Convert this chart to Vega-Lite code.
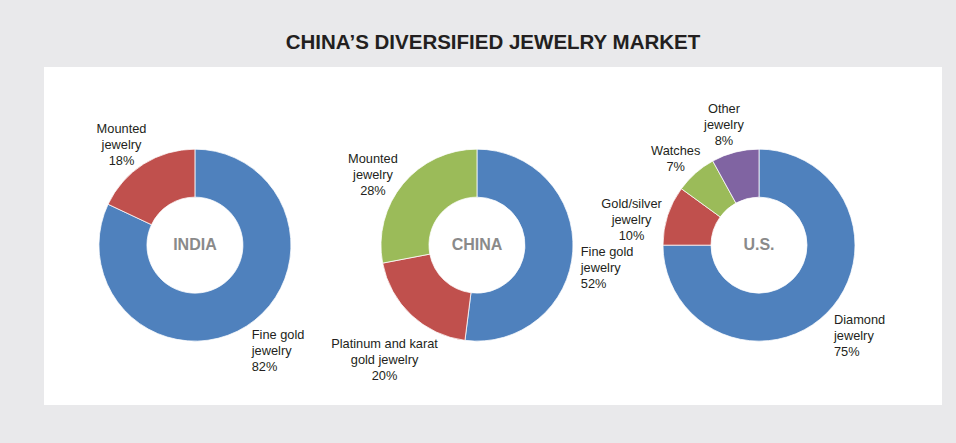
{
  "$schema": "https://vega.github.io/schema/vega-lite/v6.json",
  "width": 898,
  "height": 338,
  "autosize": {"type": "none"},
  "padding": {"left": 44, "top": 67, "right": 14, "bottom": 38},
  "background": "#e9e9eb",
  "config": {"view": {"fill": "#ffffff", "stroke": null}, "font": "Liberation Sans"},
  "title": {
    "text": "CHINA’S DIVERSIFIED JEWELRY MARKET",
    "font": "Liberation Sans",
    "fontSize": 20.5,
    "fontWeight": "bold",
    "color": "#231f20",
    "anchor": "middle",
    "frame": "group",
    "baseline": "alphabetic",
    "offset": -2
  },
  "datasets": {
    "shares": [
      {"country": "INDIA", "segment": "Fine gold jewelry", "label": "Fine gold\njewelry\n82%", "share": 82, "rank": 1},
      {"country": "INDIA", "segment": "Mounted jewelry", "label": "Mounted\njewelry\n18%", "share": 18, "rank": 2},
      {"country": "CHINA", "segment": "Fine gold jewelry", "label": "Fine gold\njewelry\n52%", "share": 52, "rank": 1},
      {"country": "CHINA", "segment": "Platinum and karat gold jewelry", "label": "Platinum and karat\ngold jewelry\n20%", "share": 20, "rank": 2},
      {"country": "CHINA", "segment": "Mounted jewelry", "label": "Mounted\njewelry\n28%", "share": 28, "rank": 3},
      {"country": "U.S.", "segment": "Diamond jewelry", "label": "Diamond\njewelry\n75%", "share": 75, "rank": 1},
      {"country": "U.S.", "segment": "Gold/silver jewelry", "label": "Gold/silver\njewelry\n10%", "share": 10, "rank": 2},
      {"country": "U.S.", "segment": "Watches", "label": "Watches\n7%", "share": 7, "rank": 3},
      {"country": "U.S.", "segment": "Other jewelry", "label": "Other\njewelry\n8%", "share": 8, "rank": 4}
    ],
    "markets": [
      {"country": "INDIA"},
      {"country": "CHINA"},
      {"country": "U.S."}
    ]
  },
  "data": {"name": "shares"},
  "encoding": {
    "x": {"field": "country", "type": "nominal", "scale": {"type": "point", "domain": ["INDIA", "CHINA", "U.S."], "padding": 0.592, "align": 0.452}, "axis": null},
    "y": {"datum": "center", "type": "nominal", "scale": {"type": "point", "padding": 0.5, "align": 0.527}, "axis": null}
  },
  "layer": [
    {
      "transform": [{"filter": {"field": "country", "equal": "INDIA"}}],
      "encoding": {
        "theta": {"field": "share", "type": "quantitative", "stack": true, "scale": {"domain": [0, 100]}},
        "order": {"field": "rank", "type": "quantitative"},
        "detail": {"field": "rank", "type": "nominal"}
      },
      "layer": [
        {"mark": {"type": "arc", "outerRadius": 96, "innerRadius": 48, "stroke": "#ffffff", "strokeWidth": 0.75},
         "encoding": {"color": {"field": "rank", "type": "nominal", "scale": {"domain": [1, 2, 3, 4], "range": ["#4f81bd", "#c0504d", "#9bbb59", "#8064a2"]}, "legend": null}}},
        {"mark": {"type": "text", "radius": 137, "align": "center", "baseline": "middle", "lineBreak": "\n", "fontSize": 12.8, "lineHeight": 16, "color": "#231f20"},
         "encoding": {"text": {"condition": {"test": {"field": "segment", "oneOf": ["Mounted jewelry"]}, "field": "label"}, "value": ""}}},
        {"mark": {"type": "text", "radius": 106, "align": "left", "baseline": "middle", "lineBreak": "\n", "fontSize": 12.8, "lineHeight": 16, "color": "#231f20"},
         "encoding": {"text": {"condition": {"test": {"field": "segment", "oneOf": ["Fine gold jewelry"]}, "field": "label"}, "value": ""}}}
      ]
    },
    {
      "transform": [{"filter": {"field": "country", "equal": "CHINA"}}],
      "encoding": {
        "theta": {"field": "share", "type": "quantitative", "stack": true, "scale": {"domain": [0, 100]}},
        "order": {"field": "rank", "type": "quantitative"},
        "detail": {"field": "rank", "type": "nominal"}
      },
      "layer": [
        {"mark": {"type": "arc", "outerRadius": 96, "innerRadius": 48, "stroke": "#ffffff", "strokeWidth": 0.75},
         "encoding": {"color": {"field": "rank", "type": "nominal", "scale": {"domain": [1, 2, 3, 4], "range": ["#4f81bd", "#c0504d", "#9bbb59", "#8064a2"]}, "legend": null}}},
        {"mark": {"type": "text", "radius": 135, "align": "center", "baseline": "middle", "lineBreak": "\n", "fontSize": 12.8, "lineHeight": 16, "color": "#231f20"},
         "encoding": {"text": {"condition": {"test": {"field": "segment", "oneOf": ["Mounted jewelry", "Platinum and karat gold jewelry"]}, "field": "label"}, "value": ""}}},
        {"mark": {"type": "text", "radius": 104, "align": "left", "baseline": "middle", "lineBreak": "\n", "fontSize": 12.8, "lineHeight": 16, "color": "#231f20"},
         "encoding": {"text": {"condition": {"test": {"field": "segment", "oneOf": ["Fine gold jewelry"]}, "field": "label"}, "value": ""}}}
      ]
    },
    {
      "transform": [{"filter": {"field": "country", "equal": "U.S."}}],
      "encoding": {
        "theta": {"field": "share", "type": "quantitative", "stack": true, "scale": {"domain": [0, 100]}},
        "order": {"field": "rank", "type": "quantitative"},
        "detail": {"field": "rank", "type": "nominal"}
      },
      "layer": [
        {"mark": {"type": "arc", "outerRadius": 96, "innerRadius": 48, "stroke": "#ffffff", "strokeWidth": 0.75},
         "encoding": {"color": {"field": "rank", "type": "nominal", "scale": {"domain": [1, 2, 3, 4], "range": ["#4f81bd", "#c0504d", "#9bbb59", "#8064a2"]}, "legend": null}}},
        {"mark": {"type": "text", "radius": 134, "align": "center", "baseline": "middle", "lineBreak": "\n", "fontSize": 12.8, "lineHeight": 16, "color": "#231f20"},
         "encoding": {"text": {"condition": {"test": {"field": "segment", "oneOf": ["Gold/silver jewelry"]}, "field": "label"}, "value": ""}}},
        {"mark": {"type": "text", "radius": 126, "align": "center", "baseline": "middle", "lineBreak": "\n", "fontSize": 12.8, "lineHeight": 16, "color": "#231f20"},
         "encoding": {"text": {"condition": {"test": {"field": "segment", "oneOf": ["Watches"]}, "field": "label"}, "value": ""}}},
        {"mark": {"type": "text", "radius": 141, "align": "center", "baseline": "middle", "lineBreak": "\n", "fontSize": 12.8, "lineHeight": 16, "color": "#231f20"},
         "encoding": {"text": {"condition": {"test": {"field": "segment", "oneOf": ["Other jewelry"]}, "field": "label"}, "value": ""}}},
        {"mark": {"type": "text", "radius": 106, "align": "left", "baseline": "middle", "lineBreak": "\n", "fontSize": 12.8, "lineHeight": 16, "color": "#231f20"},
         "encoding": {"text": {"condition": {"test": {"field": "segment", "oneOf": ["Diamond jewelry"]}, "field": "label"}, "value": ""}}}
      ]
    },
    {
      "data": {"name": "markets"},
      "mark": {"type": "text", "align": "center", "baseline": "middle", "fontSize": 16, "fontWeight": "bold", "color": "#8a8a8a"},
      "encoding": {"text": {"field": "country", "type": "nominal"}}
    }
  ]
}
